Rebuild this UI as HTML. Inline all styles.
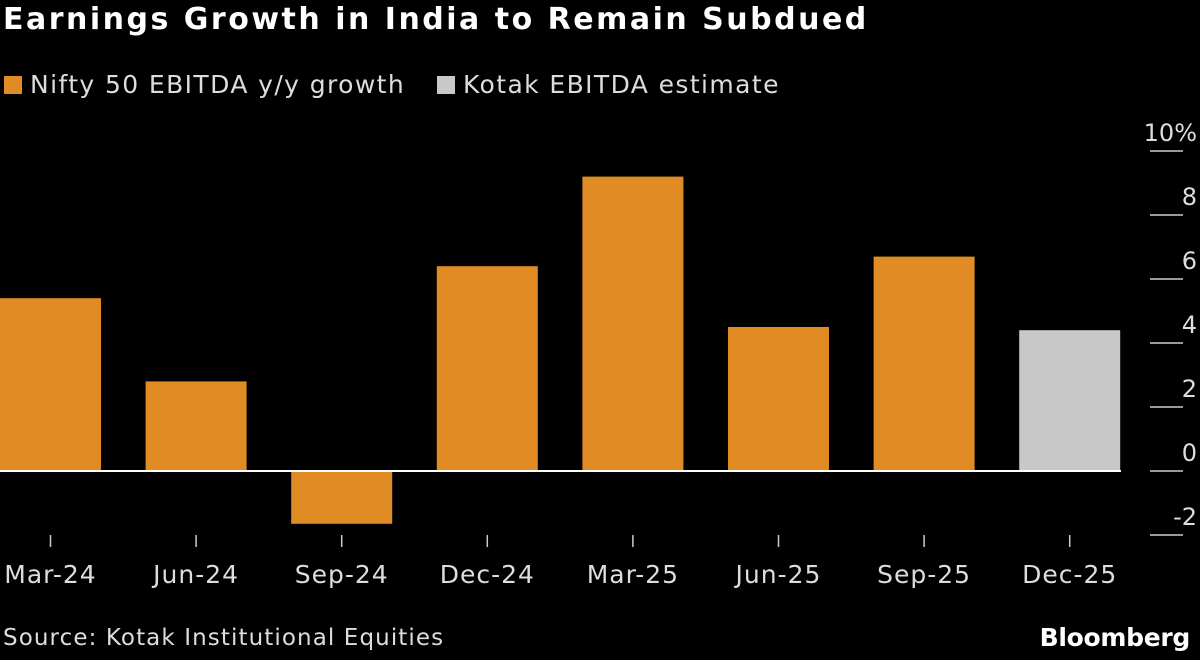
<!DOCTYPE html>
<html><head><meta charset="utf-8"><style>
body{margin:0;background:#000;width:1200px;height:660px;overflow:hidden;font-family:"DejaVu Sans","Liberation Sans",sans-serif;color:#fff}
.t{position:absolute;left:3px;top:2px;font-size:30px;font-weight:bold;color:#fff;white-space:nowrap;letter-spacing:2.5px}
.lg{position:absolute;top:70px;font-size:25px;color:#ddd;display:flex;align-items:center;white-space:nowrap;letter-spacing:1.4px}
.sw{width:18px;height:18px;margin-right:8px;display:inline-block}
.src{position:absolute;left:3px;top:625px;font-size:23px;color:#ddd;white-space:nowrap;letter-spacing:1.1px}
.bb{position:absolute;right:10px;top:623px;font-size:25px;font-weight:bold;letter-spacing:-0.3px}
</style></head><body>
<div class="t">Earnings Growth in India to Remain Subdued</div>
<div class="lg" style="left:4px"><span class="sw" style="background:#e08b24"></span>Nifty 50 EBITDA y/y growth</div>
<div class="lg" style="left:437px"><span class="sw" style="background:#c8c8c8"></span>Kotak EBITDA estimate</div>
<svg id="c" width="1200" height="660" style="position:absolute;left:0;top:0"></svg>
<div class="src">Source: Kotak Institutional Equities</div>
<div class="bb">Bloomberg</div>
<script>
const categories=["Mar-24","Jun-24","Sep-24","Dec-24","Mar-25","Jun-25","Sep-25","Dec-25"];
const values=[5.4,2.8,-1.65,6.4,9.2,4.5,6.7,4.4];
const isEstimate=[false,false,false,false,false,false,false,true];
const yTicks=[10,8,6,4,2,0,-2];
const yTickLabels=["10%","8","6","4","2","0","-2"];
const svg=document.getElementById('c');const NS='http://www.w3.org/2000/svg';
const y=v=>471-v*32;
const band=145.6, bw=101;
const xc=i=>50.5+i*band;
const FF='DejaVu Sans, Liberation Sans, sans-serif';
function mk(t,a){const e=document.createElementNS(NS,t);for(const k in a)e.setAttribute(k,a[k]);svg.appendChild(e);return e;}
yTicks.forEach((v,i)=>{
 const l=mk('line',{x1:1150,x2:1183,y1:y(v),y2:y(v),stroke:'#ccc','stroke-width':1.5});
 
 
 const t=mk('text',{x:1197,y:y(v)-10,'text-anchor':'end','font-size':24,fill:'#ddd','font-family':FF});
 t.textContent=yTickLabels[i];
 
 
});
values.forEach((v,i)=>{
 const r=mk('rect',{x:xc(i)-bw/2,y:Math.min(y(v),y(0)),width:bw,height:Math.abs(y(v)-y(0)),fill:isEstimate[i]?'#c8c8c8':'#e08b24'});
 
 
 const tk=mk('line',{x1:xc(i),x2:xc(i),y1:535,y2:547,stroke:'#ccc','stroke-width':1.5});
 
 
 const t=mk('text',{x:xc(i),y:583,'text-anchor':'middle','font-size':25,fill:'#ddd','font-family':FF,'letter-spacing':1});
 t.textContent=categories[i];
 
 
});
const z=mk('line',{x1:0,x2:1121,y1:y(0),y2:y(0),stroke:'#fff','stroke-width':2});


</script>
</body></html>
